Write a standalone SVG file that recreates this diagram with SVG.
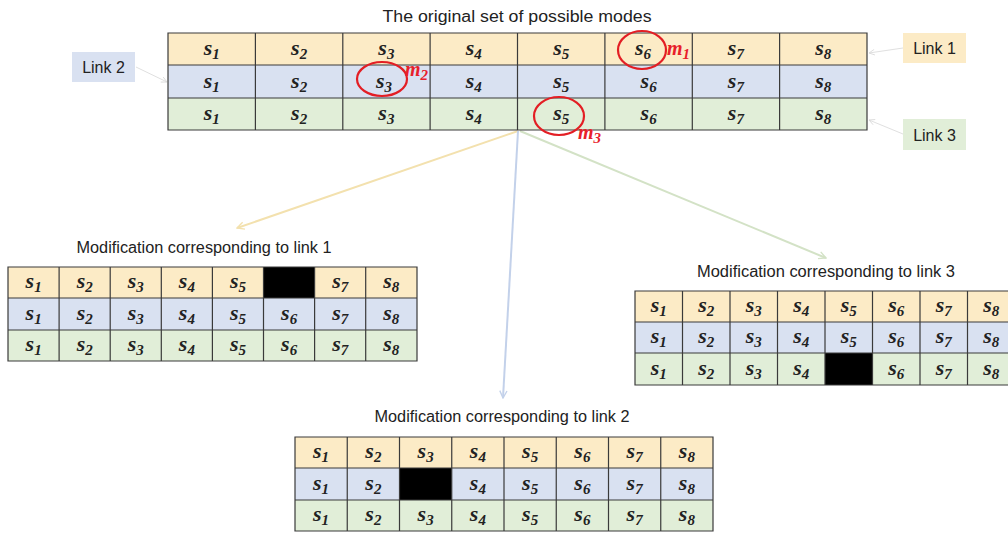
<svg xmlns="http://www.w3.org/2000/svg" width="1008" height="534" viewBox="0 0 1008 534">
<style>
.y{fill:#FCEBC6}.b{fill:#D9E1F1}.g{fill:#E1EED8}
.grid{fill:none;stroke:#3a3a3a;stroke-width:1.2}
.s{font-family:"Liberation Serif",serif;font-style:italic;font-weight:bold;font-size:22px;fill:#222;text-anchor:middle}
.sub{font-size:15px}
.t{font-family:"Liberation Sans",Arial,sans-serif;font-size:16px;fill:#222;text-anchor:middle}
.lk{font-family:"Liberation Sans",Arial,sans-serif;font-size:16px;fill:#222;text-anchor:middle}
.m{font-family:"Liberation Serif",serif;font-style:italic;font-weight:bold;font-size:20px;fill:#E8202A}
.circ{fill:none;stroke:#E31E24;stroke-width:2.2}
</style>
<defs>
<marker id="ay" viewBox="0 0 10 10" refX="9" refY="5" markerWidth="9" markerHeight="9" orient="auto" markerUnits="userSpaceOnUse"><path d="M1,1 L9,5 L1,9" fill="none" stroke="#F3E1AE" stroke-width="1.5"/></marker>
<marker id="ab" viewBox="0 0 10 10" refX="9" refY="5" markerWidth="9" markerHeight="9" orient="auto" markerUnits="userSpaceOnUse"><path d="M1,1 L9,5 L1,9" fill="none" stroke="#C3D1EA" stroke-width="1.5"/></marker>
<marker id="ag" viewBox="0 0 10 10" refX="9" refY="5" markerWidth="9" markerHeight="9" orient="auto" markerUnits="userSpaceOnUse"><path d="M1,1 L9,5 L1,9" fill="none" stroke="#D3E2C6" stroke-width="1.5"/></marker>
<marker id="ak" viewBox="0 0 10 10" refX="9" refY="5" markerWidth="7" markerHeight="7" orient="auto" markerUnits="userSpaceOnUse"><path d="M1,1 L9,5 L1,9" fill="none" stroke="#DADADA" stroke-width="1.2"/></marker>
</defs>
<rect width="1008" height="534" fill="#fff"/>

<g id="connectors" fill="none">
<line x1="518" y1="131" x2="237" y2="228" stroke="#F3E1AE" stroke-width="2" marker-end="url(#ay)"/>
<line x1="518" y1="131" x2="503" y2="398" stroke="#C3D1EA" stroke-width="2" marker-end="url(#ab)"/>
<line x1="520" y1="131" x2="826" y2="258" stroke="#D3E2C6" stroke-width="2" marker-end="url(#ag)"/>
<line x1="903" y1="48" x2="869" y2="53" stroke="#E0E0E0" stroke-width="1" marker-end="url(#ak)"/>
<line x1="136" y1="67" x2="167" y2="82" stroke="#E0E0E0" stroke-width="1" marker-end="url(#ak)"/>
<line x1="903" y1="134" x2="869" y2="120" stroke="#E0E0E0" stroke-width="1" marker-end="url(#ak)"/>
</g>

<g id="link1"><rect x="903" y="33" width="63" height="30" class="y"/><text x="934.5" y="54" class="lk">Link 1</text></g>
<g id="link2"><rect x="72" y="52" width="63" height="30" class="b"/><text x="103.5" y="73" class="lk">Link 2</text></g>
<g id="link3"><rect x="903" y="119" width="63" height="31" class="g"/><text x="934.5" y="141" class="lk">Link 3</text></g>

<g id="original">
<text x="517" y="22" class="t" font-size="17" textLength="269" lengthAdjust="spacingAndGlyphs">The original set of possible modes</text>
<rect x="168" y="33" width="699" height="32" class="y"/>
<rect x="168" y="65" width="699" height="33" class="b"/>
<rect x="168" y="98" width="699" height="32" class="g"/>
<path class="grid" d="M168,33H867V130H168Z M168,65H867 M168,98H867 M255.4,33V130 M342.8,33V130 M430.1,33V130 M517.5,33V130 M604.9,33V130 M692.3,33V130 M779.6,33V130"/>
<text class="s" x="211.7" y="55">s<tspan class="sub" dy="4">1</tspan></text>
<text class="s" x="299.1" y="55">s<tspan class="sub" dy="4">2</tspan></text>
<text class="s" x="386.4" y="55">s<tspan class="sub" dy="4">3</tspan></text>
<text class="s" x="473.8" y="55">s<tspan class="sub" dy="4">4</tspan></text>
<text class="s" x="561.2" y="55">s<tspan class="sub" dy="4">5</tspan></text>
<text class="s" x="643" y="55">s<tspan class="sub" dy="4">6</tspan></text>
<text class="s" x="735.9" y="55">s<tspan class="sub" dy="4">7</tspan></text>
<text class="s" x="823.3" y="55">s<tspan class="sub" dy="4">8</tspan></text>
<text class="s" x="211.7" y="88">s<tspan class="sub" dy="4">1</tspan></text>
<text class="s" x="299.1" y="88">s<tspan class="sub" dy="4">2</tspan></text>
<text class="s" x="384" y="88">s<tspan class="sub" dy="4">3</tspan></text>
<text class="s" x="473.8" y="88">s<tspan class="sub" dy="4">4</tspan></text>
<text class="s" x="561.2" y="88">s<tspan class="sub" dy="4">5</tspan></text>
<text class="s" x="648.6" y="88">s<tspan class="sub" dy="4">6</tspan></text>
<text class="s" x="735.9" y="88">s<tspan class="sub" dy="4">7</tspan></text>
<text class="s" x="823.3" y="88">s<tspan class="sub" dy="4">8</tspan></text>
<text class="s" x="211.7" y="120">s<tspan class="sub" dy="4">1</tspan></text>
<text class="s" x="299.1" y="120">s<tspan class="sub" dy="4">2</tspan></text>
<text class="s" x="386.4" y="120">s<tspan class="sub" dy="4">3</tspan></text>
<text class="s" x="473.8" y="120">s<tspan class="sub" dy="4">4</tspan></text>
<text class="s" x="561.2" y="120">s<tspan class="sub" dy="4">5</tspan></text>
<text class="s" x="648.6" y="120">s<tspan class="sub" dy="4">6</tspan></text>
<text class="s" x="735.9" y="120">s<tspan class="sub" dy="4">7</tspan></text>
<text class="s" x="823.3" y="120">s<tspan class="sub" dy="4">8</tspan></text>
<ellipse class="circ" cx="642" cy="50" rx="24" ry="19"/>
<ellipse class="circ" cx="382" cy="79" rx="25" ry="17"/>
<ellipse class="circ" cx="559" cy="116" rx="25" ry="19"/>
<text class="m" x="667" y="55">m<tspan class="sub" dy="4">1</tspan></text>
<text class="m" x="405" y="76">m<tspan class="sub" dy="4">2</tspan></text>
<text class="m" x="578" y="139">m<tspan class="sub" dy="4">3</tspan></text>
</g>

<g id="mod1">
<text x="204" y="253" class="t" textLength="255" lengthAdjust="spacingAndGlyphs">Modification corresponding to link 1</text>
<rect x="8" y="267" width="409" height="31" class="y"/>
<rect x="8" y="298" width="409" height="32" class="b"/>
<rect x="8" y="330" width="409" height="31" class="g"/>
<rect x="263.5" y="267" width="51.1" height="31" fill="#000"/>
<path class="grid" d="M8,267H417V361H8Z M8,298H417 M8,330H417 M59.1,267V361 M110.2,267V361 M161.3,267V361 M212.4,267V361 M263.5,267V361 M314.6,267V361 M365.7,267V361"/>
<text class="s" x="33.6" y="288">s<tspan class="sub" dy="4">1</tspan></text>
<text class="s" x="84.7" y="288">s<tspan class="sub" dy="4">2</tspan></text>
<text class="s" x="135.8" y="288">s<tspan class="sub" dy="4">3</tspan></text>
<text class="s" x="186.9" y="288">s<tspan class="sub" dy="4">4</tspan></text>
<text class="s" x="238" y="288">s<tspan class="sub" dy="4">5</tspan></text>
<text class="s" x="340.2" y="288">s<tspan class="sub" dy="4">7</tspan></text>
<text class="s" x="391.3" y="288">s<tspan class="sub" dy="4">8</tspan></text>
<text class="s" x="33.6" y="320">s<tspan class="sub" dy="4">1</tspan></text>
<text class="s" x="84.7" y="320">s<tspan class="sub" dy="4">2</tspan></text>
<text class="s" x="135.8" y="320">s<tspan class="sub" dy="4">3</tspan></text>
<text class="s" x="186.9" y="320">s<tspan class="sub" dy="4">4</tspan></text>
<text class="s" x="238" y="320">s<tspan class="sub" dy="4">5</tspan></text>
<text class="s" x="289.1" y="320">s<tspan class="sub" dy="4">6</tspan></text>
<text class="s" x="340.2" y="320">s<tspan class="sub" dy="4">7</tspan></text>
<text class="s" x="391.3" y="320">s<tspan class="sub" dy="4">8</tspan></text>
<text class="s" x="33.6" y="351">s<tspan class="sub" dy="4">1</tspan></text>
<text class="s" x="84.7" y="351">s<tspan class="sub" dy="4">2</tspan></text>
<text class="s" x="135.8" y="351">s<tspan class="sub" dy="4">3</tspan></text>
<text class="s" x="186.9" y="351">s<tspan class="sub" dy="4">4</tspan></text>
<text class="s" x="238" y="351">s<tspan class="sub" dy="4">5</tspan></text>
<text class="s" x="289.1" y="351">s<tspan class="sub" dy="4">6</tspan></text>
<text class="s" x="340.2" y="351">s<tspan class="sub" dy="4">7</tspan></text>
<text class="s" x="391.3" y="351">s<tspan class="sub" dy="4">8</tspan></text>
</g>

<g id="mod3">
<text x="826" y="277" class="t" textLength="258" lengthAdjust="spacingAndGlyphs">Modification corresponding to link 3</text>
<rect x="635" y="291" width="380" height="31" class="y"/>
<rect x="635" y="322" width="380" height="31" class="b"/>
<rect x="635" y="353" width="380" height="32" class="g"/>
<rect x="825" y="353" width="47.5" height="32" fill="#000"/>
<path class="grid" d="M635,291H1015V385H635Z M635,322H1015 M635,353H1015 M682.5,291V385 M730,291V385 M777.5,291V385 M825,291V385 M872.5,291V385 M920,291V385 M967.5,291V385"/>
<text class="s" x="658.75" y="312">s<tspan class="sub" dy="4">1</tspan></text>
<text class="s" x="706.25" y="312">s<tspan class="sub" dy="4">2</tspan></text>
<text class="s" x="753.75" y="312">s<tspan class="sub" dy="4">3</tspan></text>
<text class="s" x="801.25" y="312">s<tspan class="sub" dy="4">4</tspan></text>
<text class="s" x="848.75" y="312">s<tspan class="sub" dy="4">5</tspan></text>
<text class="s" x="896.25" y="312">s<tspan class="sub" dy="4">6</tspan></text>
<text class="s" x="943.75" y="312">s<tspan class="sub" dy="4">7</tspan></text>
<text class="s" x="991.25" y="312">s<tspan class="sub" dy="4">8</tspan></text>
<text class="s" x="658.75" y="343">s<tspan class="sub" dy="4">1</tspan></text>
<text class="s" x="706.25" y="343">s<tspan class="sub" dy="4">2</tspan></text>
<text class="s" x="753.75" y="343">s<tspan class="sub" dy="4">3</tspan></text>
<text class="s" x="801.25" y="343">s<tspan class="sub" dy="4">4</tspan></text>
<text class="s" x="848.75" y="343">s<tspan class="sub" dy="4">5</tspan></text>
<text class="s" x="896.25" y="343">s<tspan class="sub" dy="4">6</tspan></text>
<text class="s" x="943.75" y="343">s<tspan class="sub" dy="4">7</tspan></text>
<text class="s" x="991.25" y="343">s<tspan class="sub" dy="4">8</tspan></text>
<text class="s" x="658.75" y="375">s<tspan class="sub" dy="4">1</tspan></text>
<text class="s" x="706.25" y="375">s<tspan class="sub" dy="4">2</tspan></text>
<text class="s" x="753.75" y="375">s<tspan class="sub" dy="4">3</tspan></text>
<text class="s" x="801.25" y="375">s<tspan class="sub" dy="4">4</tspan></text>
<text class="s" x="896.25" y="375">s<tspan class="sub" dy="4">6</tspan></text>
<text class="s" x="943.75" y="375">s<tspan class="sub" dy="4">7</tspan></text>
<text class="s" x="991.25" y="375">s<tspan class="sub" dy="4">8</tspan></text>
</g>

<g id="mod2">
<text x="502" y="422" class="t" textLength="255" lengthAdjust="spacingAndGlyphs">Modification corresponding to link 2</text>
<rect x="295" y="437" width="418" height="31" class="y"/>
<rect x="295" y="468" width="418" height="32" class="b"/>
<rect x="295" y="500" width="418" height="31" class="g"/>
<rect x="399.5" y="468" width="52.25" height="32" fill="#000"/>
<path class="grid" d="M295,437H713V531H295Z M295,468H713 M295,500H713 M347.25,437V531 M399.5,437V531 M451.75,437V531 M504,437V531 M556.25,437V531 M608.5,437V531 M660.75,437V531"/>
<text class="s" x="321" y="458">s<tspan class="sub" dy="4">1</tspan></text>
<text class="s" x="373.4" y="458">s<tspan class="sub" dy="4">2</tspan></text>
<text class="s" x="425.6" y="458">s<tspan class="sub" dy="4">3</tspan></text>
<text class="s" x="477.9" y="458">s<tspan class="sub" dy="4">4</tspan></text>
<text class="s" x="530.1" y="458">s<tspan class="sub" dy="4">5</tspan></text>
<text class="s" x="582.4" y="458">s<tspan class="sub" dy="4">6</tspan></text>
<text class="s" x="634.6" y="458">s<tspan class="sub" dy="4">7</tspan></text>
<text class="s" x="686.9" y="458">s<tspan class="sub" dy="4">8</tspan></text>
<text class="s" x="321" y="490">s<tspan class="sub" dy="4">1</tspan></text>
<text class="s" x="373.4" y="490">s<tspan class="sub" dy="4">2</tspan></text>
<text class="s" x="477.9" y="490">s<tspan class="sub" dy="4">4</tspan></text>
<text class="s" x="530.1" y="490">s<tspan class="sub" dy="4">5</tspan></text>
<text class="s" x="582.4" y="490">s<tspan class="sub" dy="4">6</tspan></text>
<text class="s" x="634.6" y="490">s<tspan class="sub" dy="4">7</tspan></text>
<text class="s" x="686.9" y="490">s<tspan class="sub" dy="4">8</tspan></text>
<text class="s" x="321" y="521">s<tspan class="sub" dy="4">1</tspan></text>
<text class="s" x="373.4" y="521">s<tspan class="sub" dy="4">2</tspan></text>
<text class="s" x="425.6" y="521">s<tspan class="sub" dy="4">3</tspan></text>
<text class="s" x="477.9" y="521">s<tspan class="sub" dy="4">4</tspan></text>
<text class="s" x="530.1" y="521">s<tspan class="sub" dy="4">5</tspan></text>
<text class="s" x="582.4" y="521">s<tspan class="sub" dy="4">6</tspan></text>
<text class="s" x="634.6" y="521">s<tspan class="sub" dy="4">7</tspan></text>
<text class="s" x="686.9" y="521">s<tspan class="sub" dy="4">8</tspan></text>
</g>
</svg>
